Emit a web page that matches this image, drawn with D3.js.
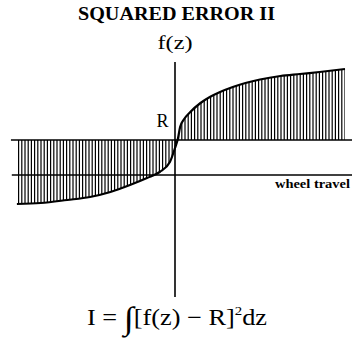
<!DOCTYPE html>
<html>
<head>
<meta charset="utf-8">
<script src="https://cdn.jsdelivr.net/npm/d3@7/dist/d3.min.js"></script>
<style>
  html, body { margin: 0; padding: 0; background: #fff; }
  svg { display: block; }
  text { font-family: "Liberation Serif", "DejaVu Serif", serif; fill: #000; }
</style>
</head>
<body>
<svg id="chart" width="352" height="339"></svg>
<script>
// Wheel travel z (left = negative) and the force response f(z)
const zValues = [-9.3, -7.9, -6.35, -5.0, -3.8, -2.65, -1.65, -0.9, -0.3, 0, 0.18, 0.3, 0.5, 0.9, 1.5, 2.05, 2.65, 3.4, 5.0, 6.2, 7.35, 8.5, 10];
const fValues = [-2.9, -2.8, -2.5, -2.2, -1.7, -1.0, -0.3, 0.3, 1.3, 2.7, 3.7, 4.8, 5.5, 6.3, 7.2, 7.8, 8.3, 8.8, 9.55, 9.9, 10.1, 10.3, 10.6];
// Reference level R
const R = 3.5;
// Axis extents in data units
const zAxisExtent = [-9.6, 10.5];
const fAxisExtent = [-12.2, 11.3];

const titleText = "SQUARED ERROR II";
const yAxisLabel = "f(z)";
const xAxisLabel = "wheel travel";
const refLabel = "R";

const svg = d3.select("#chart");

const x = d3.scaleLinear().domain([-10, 10]).range([5, 345]);
const y = d3.scaleLinear().domain([0, 10]).range([175, 75]);

const points = zValues.map((z, i) => ({ z, f: fValues[i] }));

// Shaded region between the curve and R, used as a clip for the hatching
const area = d3.area()
  .x(d => x(d.z))
  .y0(y(R))
  .y1(d => y(d.f))
  .curve(d3.curveMonotoneX);

svg.append("clipPath").attr("id", "errClip")
  .append("path").attr("d", area(points));

const zMin = d3.min(zValues), zMax = d3.max(zValues);
const hatchStep = 3.2 / (x(1) - x(0));
const hatchZ = d3.range(zMin + 0.1, zMax, hatchStep);

svg.append("g").attr("clip-path", "url(#errClip)")
  .selectAll("line").data(hatchZ).join("line")
  .attr("x1", d => x(d)).attr("x2", d => x(d))
  .attr("y1", 0).attr("y2", 339)
  .attr("stroke", "#000").attr("stroke-width", 1.2);

// Axes
svg.append("line")
  .attr("x1", x(zAxisExtent[0])).attr("x2", 352)
  .attr("y1", y(0)).attr("y2", y(0))
  .attr("stroke", "#000").attr("stroke-width", 1.6);

svg.append("line")
  .attr("x1", x(0)).attr("x2", x(0))
  .attr("y1", y(fAxisExtent[1])).attr("y2", y(fAxisExtent[0]))
  .attr("stroke", "#000").attr("stroke-width", 1.6);

// R level line
svg.append("line")
  .attr("x1", x(-9.65)).attr("x2", 352)
  .attr("y1", y(R)).attr("y2", y(R))
  .attr("stroke", "#000").attr("stroke-width", 1.6);

// f(z) curve
const line = d3.line().x(d => x(d.z)).y(d => y(d.f)).curve(d3.curveMonotoneX);
svg.append("path")
  .attr("d", line(points))
  .attr("fill", "none")
  .attr("stroke", "#000")
  .attr("stroke-width", 2.2);

// Text
svg.append("text")
  .attr("x", 176.5).attr("y", 20)
  .attr("text-anchor", "middle")
  .attr("font-weight", "bold").attr("font-size", 19)
  .attr("textLength", 197).attr("lengthAdjust", "spacingAndGlyphs")
  .text(titleText);

svg.append("text")
  .attr("x", x(0)).attr("y", 49)
  .attr("text-anchor", "middle")
  .attr("font-size", 19)
  .attr("textLength", 35).attr("lengthAdjust", "spacingAndGlyphs")
  .text(yAxisLabel);

svg.append("text")
  .attr("x", 162.5).attr("y", 127)
  .attr("text-anchor", "middle")
  .attr("font-size", 18)
  .text(refLabel);

svg.append("text")
  .attr("x", 350).attr("y", 188)
  .attr("text-anchor", "end")
  .attr("font-weight", "bold").attr("font-size", 13)
  .attr("textLength", 75).attr("lengthAdjust", "spacingAndGlyphs")
  .text(xAxisLabel);

// Integral of the squared error
const eq = svg.append("text")
  .attr("x", 87).attr("y", 325)
  .attr("font-size", 23)
  .attr("textLength", 180).attr("lengthAdjust", "spacingAndGlyphs");
eq.append("tspan").text("I = ");
eq.append("tspan").attr("font-size", 32).attr("dy", 4).text("∫");
eq.append("tspan").attr("dy", -4).text("[f(z) − R]");
eq.append("tspan").attr("font-size", 13).attr("dy", -10).text("2");
eq.append("tspan").attr("dy", 10).text("dz");
</script>
</body>
</html>
